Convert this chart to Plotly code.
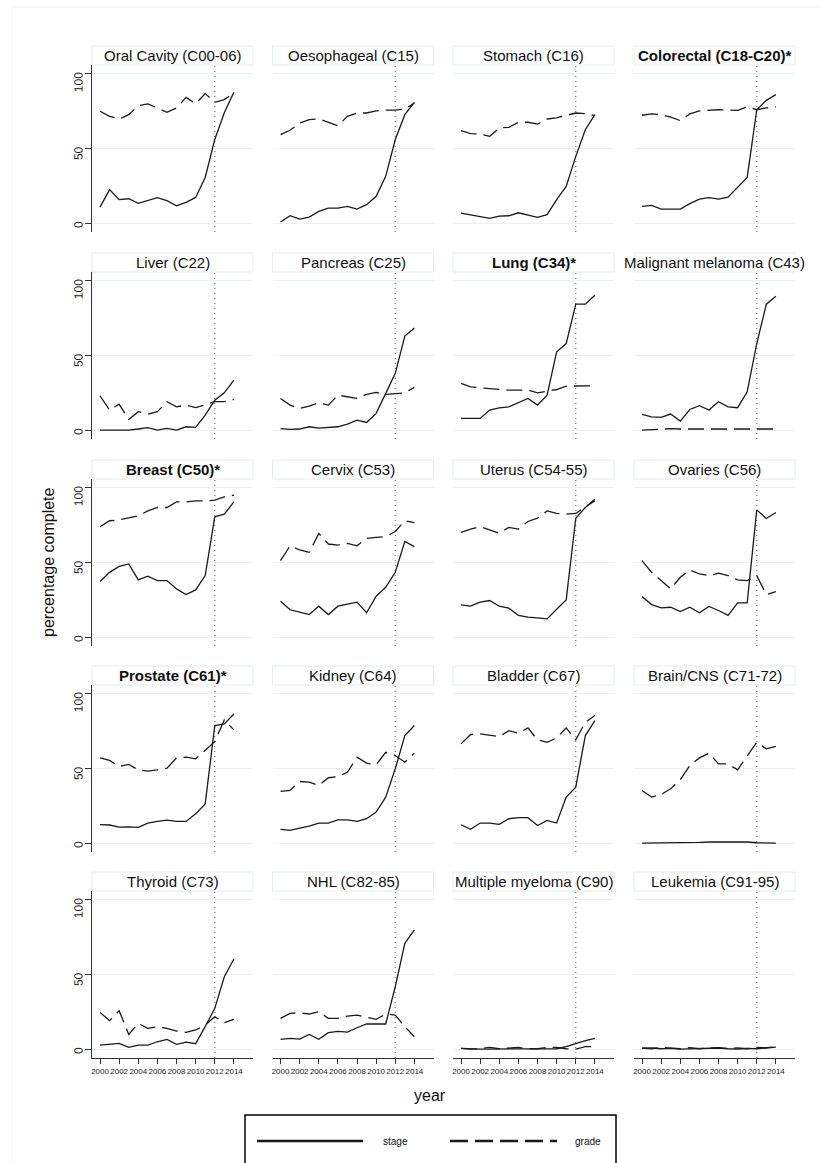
import plotly.graph_objects as go

years = list(range(2000, 2015))
cutoff_year = 2012
x_ticks = list(range(2000, 2015, 2))
y_ticks = [0, 50, 100]

titles = ["Oral Cavity (C00-06)", "Oesophageal (C15)", "Stomach (C16)", "Colorectal (C18-C20)*",
          "Liver (C22)", "Pancreas (C25)", "Lung (C34)*", "Malignant melanoma (C43)",
          "Breast (C50)*", "Cervix (C53)", "Uterus (C54-55)", "Ovaries (C56)",
          "Prostate (C61)*", "Kidney (C64)", "Bladder (C67)", "Brain/CNS (C71-72)",
          "Thyroid (C73)", "NHL (C82-85)", "Multiple myeloma (C90)", "Leukemia (C91-95)"]
bold_titles = ["Colorectal (C18-C20)*", "Lung (C34)*", "Breast (C50)*", "Prostate (C61)*"]

oral_stage = [10.7, 22.4, 15.7, 16.3, 13.2, 15.0, 17.0, 15.0, 11.6, 13.9, 17.2, 30.6, 56.0, 74.0, 87.7]
oral_grade = [75.0, 71.6, 69.8, 72.7, 78.7, 79.9, 77.2, 74.3, 77.2, 84.3, 80.0, 86.8, 81.0, 82.8, 87.2]
oes_stage = [0.7, 4.9, 2.7, 4.0, 7.8, 10.0, 10.0, 11.2, 9.4, 12.3, 17.9, 31.3, 56.0, 72.7, 81.0]
oes_grade = [59.3, 62.2, 67.0, 69.4, 69.8, 67.6, 65.3, 71.6, 73.8, 73.8, 75.2, 75.8, 75.8, 76.5, 80.5]
stom_stage = [6.7, 5.6, 4.3, 3.1, 4.7, 4.9, 6.9, 5.6, 3.8, 5.6, 15.7, 24.6, 44.7, 62.6, 72.7]
stom_grade = [62.0, 60.0, 59.7, 58.2, 63.8, 64.2, 67.6, 67.6, 66.4, 69.8, 70.5, 72.0, 73.8, 73.4, 72.0]
colo_stage = [11.2, 11.9, 9.4, 9.4, 9.4, 13.0, 16.1, 17.0, 16.1, 17.4, 24.2, 30.6, 76.0, 82.3, 86.1]
colo_grade = [72.3, 73.2, 72.7, 71.1, 68.7, 73.2, 75.2, 75.6, 76.0, 75.8, 75.6, 77.9, 76.0, 77.2, 77.9]
liver_stage = [0, 0, 0, 0, 0.7, 1.6, 0, 1.1, 0, 2.2, 1.8, 10.0, 20.0, 25.0, 33.5]
liver_grade = [23.0, 13.4, 17.4, 7.1, 12.3, 10.7, 12.3, 19.0, 15.6, 16.7, 15.0, 17.2, 19.0, 19.0, 20.5]
panc_stage = [0.9, 0.4, 0.7, 2.2, 1.3, 1.6, 2.2, 4.0, 6.7, 5.1, 11.2, 24.6, 38.0, 63.0, 68.5]
panc_grade = [21.2, 16.7, 14.5, 16.1, 18.3, 16.7, 23.4, 22.3, 21.2, 23.9, 25.2, 23.9, 24.6, 25.0, 28.6]
lung_stage = [7.8, 7.8, 7.8, 13.4, 14.9, 15.6, 18.3, 21.2, 16.7, 23.4, 52.5, 58.0, 84.4, 84.4, 90.4]
lung_grade = [31.3, 29.0, 28.3, 27.7, 27.2, 26.8, 26.8, 26.8, 25.0, 26.3, 27.2, 29.5, 29.7, 29.7, 29.7]
mel_stage = [10.5, 8.9, 8.5, 10.7, 6.0, 13.8, 16.3, 13.4, 19.0, 15.6, 15.0, 25.7, 58.0, 84.4, 89.7]
mel_grade = [0, 0.4, 0.4, 0.9, 0.7, 0.7, 0.9, 0.9, 0.4, 0.4, 0.4, 0.4, 0.7, 0.9, 0.7]
breast_stage = [37.2, 43.4, 47.4, 49.0, 38.3, 40.8, 37.9, 37.9, 32.3, 28.5, 31.6, 41.2, 80.6, 82.4, 90.6]
breast_grade = [74.0, 78.0, 78.6, 80.2, 81.3, 84.6, 86.9, 86.9, 90.6, 90.6, 91.3, 91.3, 91.8, 94.0, 95.1]
cerv_stage = [24.0, 18.3, 16.7, 15.1, 20.7, 15.1, 20.7, 22.3, 23.4, 16.3, 27.4, 33.4, 43.4, 64.1, 60.6]
cerv_grade = [51.2, 61.2, 58.4, 56.8, 69.5, 62.4, 61.7, 62.8, 61.2, 66.1, 66.8, 67.3, 70.8, 78.0, 76.8]
ut_stage = [21.6, 20.7, 23.4, 24.5, 20.7, 19.4, 14.5, 13.4, 12.9, 12.2, 18.7, 24.9, 79.7, 86.9, 92.4]
ut_grade = [70.2, 72.4, 74.0, 71.7, 69.7, 73.5, 72.4, 77.5, 79.7, 84.6, 82.9, 82.4, 82.9, 87.3, 91.3]
ova_stage = [27.2, 21.8, 19.6, 20.0, 17.1, 20.0, 16.3, 20.5, 17.8, 14.5, 22.9, 22.9, 85.3, 79.5, 83.5]
ova_grade = [51.2, 43.4, 37.9, 32.3, 40.1, 45.0, 42.3, 41.2, 42.8, 41.2, 38.3, 37.9, 41.2, 28.5, 30.5]
pros_stage = [12.3, 12.1, 10.7, 10.9, 10.5, 13.4, 14.5, 15.4, 14.5, 14.5, 19.6, 26.3, 78.8, 79.9, 86.6]
pros_grade = [57.1, 55.4, 51.3, 52.7, 49.1, 48.2, 49.1, 50.2, 57.1, 57.6, 56.5, 62.0, 68.0, 82.6, 75.9]
kid_stage = [9.2, 8.5, 10.0, 11.4, 13.4, 13.4, 15.6, 15.6, 14.5, 16.3, 20.8, 30.8, 49.8, 72.1, 78.8]
kid_grade = [34.6, 35.3, 41.3, 40.8, 38.6, 43.8, 44.6, 47.5, 57.6, 53.6, 52.5, 60.9, 58.7, 54.2, 60.3]
blad_stage = [12.3, 9.2, 13.4, 13.4, 12.5, 16.3, 17.0, 17.0, 11.8, 15.2, 13.4, 30.8, 37.5, 72.1, 82.1]
blad_grade = [66.5, 72.8, 73.2, 72.5, 71.4, 75.4, 73.7, 77.2, 69.2, 67.6, 70.5, 77.2, 69.2, 81.0, 85.5]
brain_stage = [0, 0, 0, 0, 0, 0.2, 0.4, 0.7, 0.7, 0.7, 0.9, 0.7, 0.2, 0, 0]
brain_grade = [35.3, 30.8, 32.6, 36.4, 42.4, 52.0, 57.1, 60.3, 53.1, 53.1, 49.1, 58.0, 67.6, 63.2, 64.9]
thy_stage = [2.7, 3.1, 3.8, 1.1, 2.7, 2.7, 4.9, 6.5, 3.1, 4.7, 3.6, 15.0, 27.3, 48.5, 60.4]
thy_grade = [24.6, 19.0, 25.7, 9.8, 17.2, 13.9, 15.0, 13.9, 12.1, 11.2, 12.8, 16.1, 21.7, 17.7, 19.9]
nhl_stage = [6.5, 7.2, 6.7, 9.8, 6.5, 11.0, 11.9, 11.4, 14.3, 16.8, 16.8, 16.8, 41.8, 70.9, 79.9]
nhl_grade = [20.6, 23.9, 24.4, 23.5, 25.0, 20.6, 20.6, 22.1, 22.8, 21.3, 19.9, 23.5, 22.8, 15.0, 8.3]
mm_stage = [0.4, 0, 0, 0, 0, 0, 0, 0, 0, 0, 0.2, 1.6, 3.8, 5.6, 7.2]
mm_grade = [0.4, 0, 0.2, 1.1, 0.2, 0.7, 1.1, 0.2, 0.2, 1.1, 1.1, 0.2, 0, 1.6, 1.6]
leuk_stage = [0.4, 0.7, 0.2, 0.4, 0, 0.2, 0.4, 0.9, 0.7, 0.2, 0, 0.4, 0.2, 0.7, 1.3]
leuk_grade = [0.7, 0.2, 1.1, 0.4, 0.2, 0.9, 0.2, 0.7, 0.9, 0.4, 0.7, 0.2, 1.1, 0.9, 1.6]

stage_series = [oral_stage, oes_stage, stom_stage, colo_stage, liver_stage, panc_stage, lung_stage, mel_stage,
                breast_stage, cerv_stage, ut_stage, ova_stage, pros_stage, kid_stage, blad_stage, brain_stage,
                thy_stage, nhl_stage, mm_stage, leuk_stage]
grade_series = [oral_grade, oes_grade, stom_grade, colo_grade, liver_grade, panc_grade, lung_grade, mel_grade,
                breast_grade, cerv_grade, ut_grade, ova_grade, pros_grade, kid_grade, blad_grade, brain_grade,
                thy_grade, nhl_grade, mm_grade, leuk_grade]

W, H = 821, 1163
FONT = "Liberation Sans, Arial, sans-serif"
LINE = "#1a1a1a"
GRID = "#e9f1f2"
col_left = [92, 272.5, 453, 634]
panel_w = 161
row_top = [65, 272, 479, 685, 891]
panel_h = 167
title_h = 19

fig = go.Figure()
layout = dict(
    width=W, height=H, margin=dict(l=0, r=0, t=0, b=0),
    paper_bgcolor="white", plot_bgcolor="white", showlegend=False,
    font=dict(family=FONT, color="#222"),
)
shapes = []
annotations = []

for i, title in enumerate(titles):
    r, c = divmod(i, 4)
    n = i + 1
    sfx = "" if n == 1 else str(n)
    xa, ya = "x" + sfx, "y" + sfx
    x0 = col_left[c]
    y0 = row_top[r]
    bottom = r == 4
    left = c == 0
    layout["xaxis" + sfx] = dict(
        domain=[x0 / W, (x0 + panel_w) / W], anchor=ya, range=[1999.16, 2016],
        showgrid=False, zeroline=False, showline=bottom, linecolor="#333", linewidth=1,
        ticks="outside" if bottom else "", ticklen=5, tickcolor="#333",
        tickvals=x_ticks, showticklabels=bottom, tickangle=0,
        tickfont=dict(size=8, color="#222", family=FONT), fixedrange=True,
    )
    layout["yaxis" + sfx] = dict(
        domain=[1 - (y0 + panel_h) / H, 1 - y0 / H], anchor=xa, range=[-6, 106],
        showgrid=True, gridcolor=GRID, gridwidth=1, zeroline=False,
        showline=left, linecolor="#333", linewidth=1,
        ticks="outside" if left else "", ticklen=6, tickcolor="#333",
        tickvals=y_ticks, showticklabels=left, tickangle=-89.9, ticklabelstandoff=6,
        tickfont=dict(size=12, color="#222", family=FONT), fixedrange=True,
    )
    fig.add_trace(go.Scatter(x=years, y=stage_series[i], xaxis=xa, yaxis=ya, mode="lines",
                             line=dict(color=LINE, width=1.3), name="stage", hoverinfo="skip"))
    fig.add_trace(go.Scatter(x=years, y=grade_series[i], xaxis=xa, yaxis=ya, mode="lines",
                             line=dict(color=LINE, width=1.3, dash="16px,7px"), name="grade", hoverinfo="skip"))
    # dotted reference line
    shapes.append(dict(type="line", xref=xa, yref=ya + " domain", x0=cutoff_year, x1=cutoff_year,
                       y0=0, y1=1, line=dict(color="#777", width=1.2, dash="1px,4px"), layer="below"))
    # title box
    shapes.append(dict(type="rect", xref=xa + " domain", yref=ya + " domain", x0=0, x1=1,
                       y0=1, y1=1 + title_h / panel_h, line=dict(color="#e3ecee", width=1),
                       fillcolor="white", layer="below"))
    txt = "<b>%s</b>" % title if title in bold_titles else title
    annotations.append(dict(text=txt, xref=xa + " domain", yref=ya + " domain", x=0.5,
                            y=1 + (title_h / 2) / panel_h, showarrow=False, xanchor="center",
                            yanchor="middle", font=dict(size=15, color="#111", family=FONT)))

# outer faint border
shapes.append(dict(type="rect", xref="paper", yref="paper", x0=12 / W, x1=1.01, y0=-0.01, y1=1 - 7 / H,
                   line=dict(color="#eef2f3", width=1), layer="below"))
# axis titles
annotations.append(dict(text="percentage complete", xref="paper", yref="paper", x=48 / W, y=1 - 562 / H,
                        textangle=-90, showarrow=False, xanchor="center", yanchor="middle",
                        font=dict(size=16, color="#111", family=FONT)))
annotations.append(dict(text="year", xref="paper", yref="paper", x=430 / W, y=1 - 1095 / H,
                        showarrow=False, xanchor="center", yanchor="middle",
                        font=dict(size=16, color="#111", family=FONT)))
# legend box
shapes.append(dict(type="rect", xref="paper", yref="paper", x0=245 / W, x1=616 / W,
                   y0=1 - 1175 / H, y1=1 - 1115 / H, line=dict(color="black", width=1.5)))
shapes.append(dict(type="line", xref="paper", yref="paper", x0=257 / W, x1=363 / W,
                   y0=1 - 1141 / H, y1=1 - 1141 / H, line=dict(color=LINE, width=2.5)))
shapes.append(dict(type="line", xref="paper", yref="paper", x0=450 / W, x1=557 / W,
                   y0=1 - 1141 / H, y1=1 - 1141 / H, line=dict(color=LINE, width=2.5, dash="18px,7px")))
annotations.append(dict(text="stage", xref="paper", yref="paper", x=395 / W, y=1 - 1141 / H,
                        showarrow=False, xanchor="center", yanchor="middle",
                        font=dict(size=10, color="#111", family=FONT)))
annotations.append(dict(text="grade", xref="paper", yref="paper", x=588 / W, y=1 - 1141 / H,
                        showarrow=False, xanchor="center", yanchor="middle",
                        font=dict(size=10, color="#111", family=FONT)))

layout["shapes"] = shapes
layout["annotations"] = annotations
fig.update_layout(**layout)
fig.write_html("out.html")
